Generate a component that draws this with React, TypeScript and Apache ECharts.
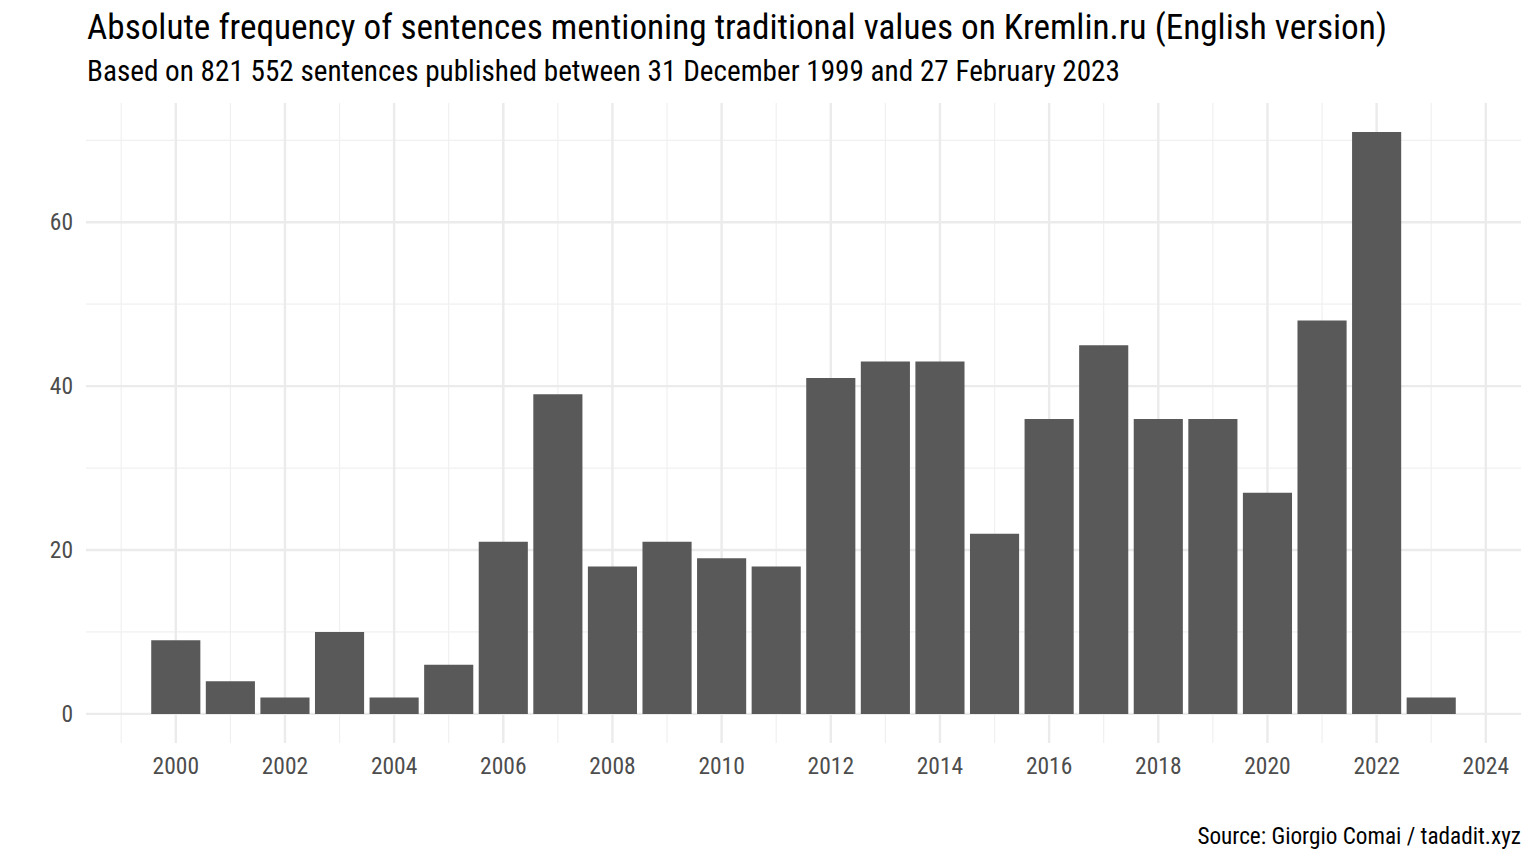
import React, { useEffect, useRef } from "react";
import * as echarts from "echarts";

const years = [2000, 2001, 2002, 2003, 2004, 2005, 2006, 2007, 2008, 2009, 2010, 2011, 2012, 2013, 2014, 2015, 2016, 2017, 2018, 2019, 2020, 2021, 2022, 2023];
const counts = [9, 4, 2, 10, 2, 6, 21, 39, 18, 21, 19, 18, 41, 43, 43, 22, 36, 45, 36, 36, 27, 48, 71, 2];
const xMajorTicks = [2000, 2002, 2004, 2006, 2008, 2010, 2012, 2014, 2016, 2018, 2020, 2022, 2024];
const xMinorTicks = [1999, 2001, 2003, 2005, 2007, 2009, 2011, 2013, 2015, 2017, 2019, 2021, 2023];
const yMajorTicks = [0, 20, 40, 60];
const yMinorTicks = [10, 30, 50, 70];

const TITLE = "Absolute frequency of sentences mentioning traditional values on Kremlin.ru (English version)";
const SUBTITLE = "Based on 821 552 sentences published between 31 December 1999 and 27 February 2023";
const CAPTION = "Source: Giorgio Comai / tadadit.xyz";

const FONT = "'Roboto Condensed', 'Liberation Sans Narrow', 'DejaVu Sans Condensed', Roboto, sans-serif";

const BAR_WIDTH = 0.9;
const X_MIN = 2000 - BAR_WIDTH / 2 - (23 + BAR_WIDTH) * 0.05;
const X_MAX = 2023 + BAR_WIDTH / 2 + (23 + BAR_WIDTH) * 0.05;
const Y_MIN = -71 * 0.05;
const Y_MAX = 71 * 1.05;

function gridSeries(values: number[], vertical: boolean, color: string, width: number) {
  return {
    type: "custom",
    silent: true,
    z: 1,
    data: values.map((v) => (vertical ? [v, 0] : [X_MIN, v])),
    renderItem: (params: any, api: any) => {
      const cs = params.coordSys;
      const p = api.coord([api.value(0), api.value(1)]);
      const shape = vertical
        ? { x1: p[0], y1: cs.y, x2: p[0], y2: cs.y + cs.height }
        : { x1: cs.x, y1: p[1], x2: cs.x + cs.width, y2: p[1] };
      return { type: "line", shape, style: { stroke: color, lineWidth: width } };
    },
  };
}

export default function App() {
  const ref = useRef<HTMLDivElement>(null);
  useEffect(() => {
    if (!ref.current) return;
    const chart = echarts.init(ref.current, undefined, { renderer: "svg" });
    chart.setOption({
      animation: false,
      backgroundColor: "#ffffff",
      textStyle: { fontFamily: FONT },
      grid: { left: 86, right: 15, top: 103, bottom: 121, containLabel: false },
      xAxis: {
        type: "value",
        min: X_MIN,
        max: X_MAX,
        axisLine: { show: false },
        axisTick: { show: false },
        splitLine: { show: false },
        axisLabel: {
          customValues: xMajorTicks,
          color: "#4D4D4D",
          fontSize: 23.5,
          fontFamily: FONT,
          margin: 11,
          formatter: (v: number) => String(Math.round(v)),
        },
      },
      yAxis: {
        type: "value",
        min: Y_MIN,
        max: Y_MAX,
        axisLine: { show: false },
        axisTick: { show: false },
        splitLine: { show: false },
        axisLabel: {
          customValues: yMajorTicks,
          color: "#4D4D4D",
          fontSize: 23.5,
          fontFamily: FONT,
          margin: 13,
          formatter: (v: number) => String(Math.round(v)),
        },
      },
      series: [
        gridSeries(xMinorTicks, true, "#F0F0F0", 1.2),
        gridSeries(yMinorTicks, false, "#F0F0F0", 1.2),
        gridSeries(xMajorTicks, true, "#EBEBEB", 2.4),
        gridSeries(yMajorTicks, false, "#EBEBEB", 2.4),
        {
          type: "custom",
          z: 5,
          data: years.map((y, i) => [y, counts[i]]),
          renderItem: (params: any, api: any) => {
            const x = api.value(0);
            const v = api.value(1);
            const p0 = api.coord([x - BAR_WIDTH / 2, 0]);
            const p1 = api.coord([x + BAR_WIDTH / 2, v]);
            return {
              type: "rect",
              shape: { x: p0[0], y: p1[1], width: p1[0] - p0[0], height: p0[1] - p1[1] },
              style: { fill: "#595959" },
            };
          },
        },
      ],
      graphic: [
        {
          type: "text",
          x: 87,
          y: 27,
          style: { text: TITLE, fontSize: 35.2, fill: "#000000", fontFamily: FONT, verticalAlign: "middle", align: "left" },
        },
        {
          type: "text",
          x: 87,
          y: 71,
          style: { text: SUBTITLE, fontSize: 29.2, fill: "#000000", fontFamily: FONT, verticalAlign: "middle", align: "left" },
        },
        {
          type: "text",
          x: 1521,
          y: 835.5,
          style: { text: CAPTION, fontSize: 23.2, fill: "#000000", fontFamily: FONT, verticalAlign: "middle", align: "right" },
        },
      ],
    });
    return () => chart.dispose();
  }, []);
  return (
    <div
      ref={ref}
      style={{ position: "fixed", left: 0, top: 0, width: 1536, height: 864, background: "#fff" }}
    />
  );
}
